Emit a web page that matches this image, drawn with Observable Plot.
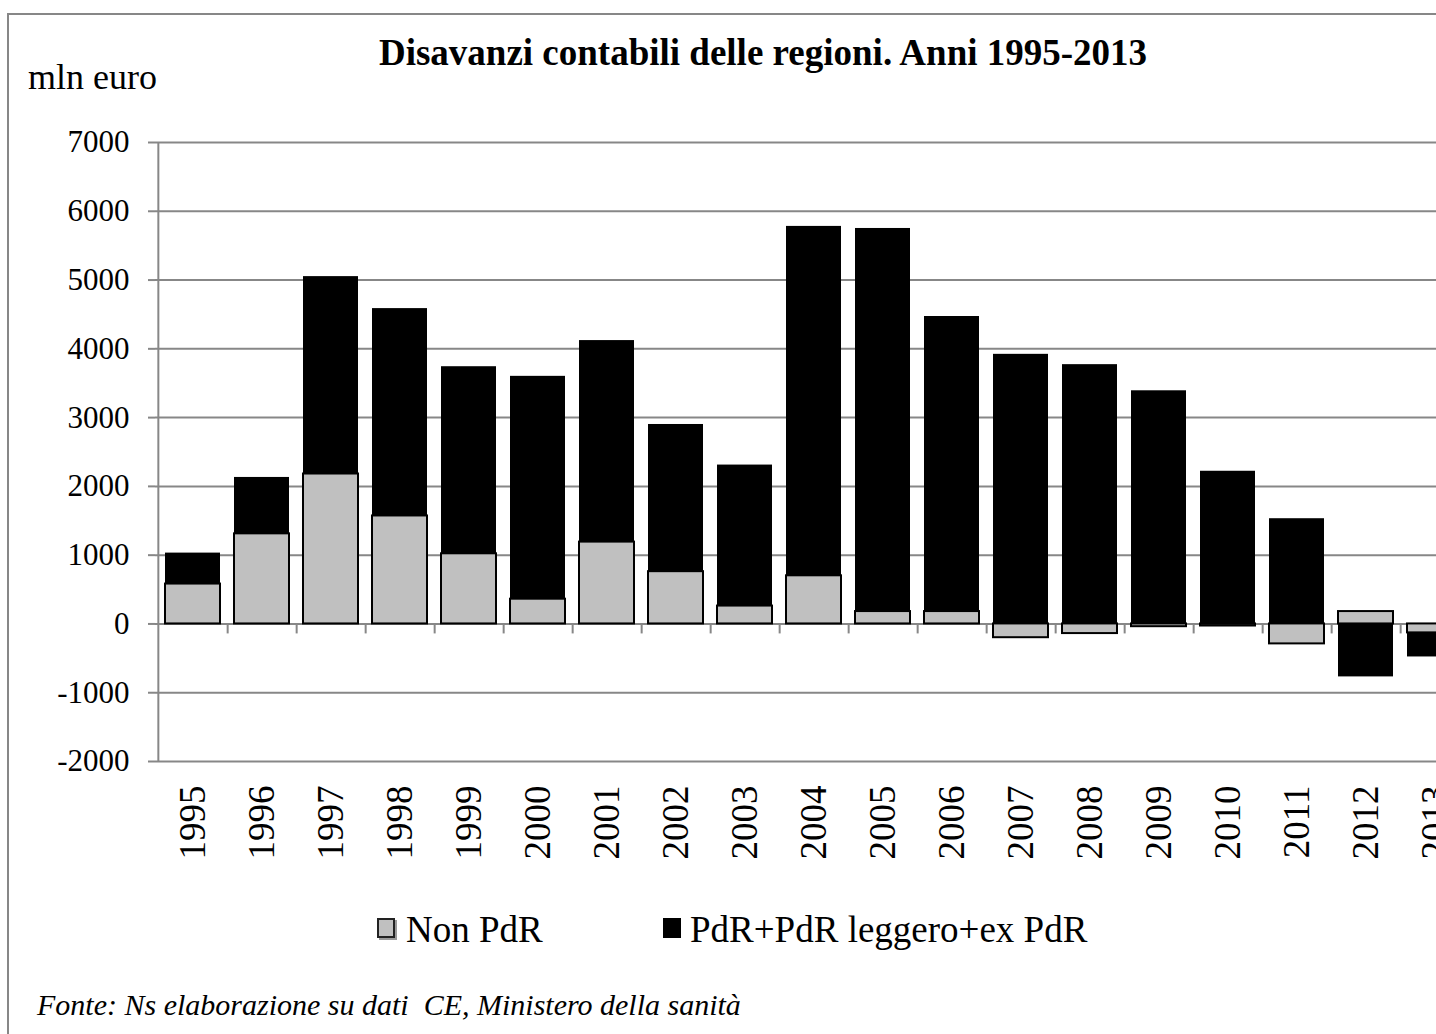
<!DOCTYPE html>
<html>
<head>
<meta charset="utf-8">
<script src="https://cdn.jsdelivr.net/npm/d3@7"></script>
<script src="https://cdn.jsdelivr.net/npm/@observablehq/plot@0.6"></script>
<style>
  html, body { margin: 0; padding: 0; background: #fff; overflow: hidden; width: 1436px; height: 1034px; }
  #wrap { position: relative; width: 1436px; height: 1034px; overflow: hidden; font-family: "Liberation Serif", "Times New Roman", serif; color: #000; }
  #frame { position: absolute; left: 7px; top: 13px; width: 2000px; height: 2000px; border-left: 2px solid #878787; border-top: 2px solid #878787; box-sizing: border-box; }
  #title { position: absolute; left: 0; width: 1526px; top: 34px; text-align: center; font-size: 37px; line-height: 37px; font-weight: bold; white-space: nowrap; }
  #unit { position: absolute; left: 28px; top: 59px; font-size: 36px; line-height: 36px; white-space: nowrap; }
  #chart { position: absolute; left: 0; top: 100px; }
  .leg { position: absolute; top: 911px; font-size: 37px; line-height: 37px; white-space: nowrap; }
  .sw { position: absolute; top: 918px; width: 18px; height: 20px; box-sizing: border-box; }
  #caption { position: absolute; left: 37px; top: 990px; font-size: 30px; line-height: 30px; font-style: italic; white-space: nowrap; }
</style>
</head>
<body>
<div id="wrap">
  <div id="frame"></div>
  <div id="title">Disavanzi contabili delle regioni. Anni 1995-2013</div>
  <div id="unit">mln euro</div>
  <div id="chart"></div>
  <div class="sw" style="left:377px;background:#c0c0c0;border:2px solid #222;box-shadow:2px 2px 0 #9a9a9a;"></div>
  <div class="leg" style="left:406px;">Non PdR</div>
  <div class="sw" style="left:663px;background:#000;"></div>
  <div class="leg" style="left:690px;">PdR+PdR leggero+ex PdR</div>
  <div id="caption">Fonte: Ns elaborazione su dati&nbsp; CE, Ministero della sanità</div>
</div>
<script>
// ---- data (mln euro) ----
const years = ["1995","1996","1997","1998","1999","2000","2001","2002","2003","2004","2005","2006","2007","2008","2009","2010","2011","2012","2013"];
const nonPdR = [580, 1310, 2180, 1570, 1020, 360, 1190, 760, 260, 700, 180, 180, -200, -140, -40, -30, -290, 180, -130];
const pdR    = [450, 820, 2870, 3015, 2720, 3240, 2930, 2140, 2050, 5080, 5570, 4290, 3920, 3770, 3390, 2220, 1530, -770, -350];
const seriesNames = ["Non PdR", "PdR+PdR leggero+ex PdR"];
const seriesColors = ["#c0c0c0", "#000000"];
const yTicks = [-2000, -1000, 0, 1000, 2000, 3000, 4000, 5000, 6000, 7000];

const data = [];
years.forEach((y, i) => {
  data.push({year: y, series: seriesNames[0], value: nonPdR[i]});
  data.push({year: y, series: seriesNames[1], value: pdR[i]});
});

const marginLeft = 155, marginRight = 0, marginTop = 42, marginBottom = 110;
const width = 1472, height = 771;
const step = (width - marginLeft - marginRight) / years.length;
const gray = "#878787";

const chart = Plot.plot({
  width, height, marginLeft, marginRight, marginTop, marginBottom,
  style: {maxWidth: "none", background: "transparent", fontFamily: "'Liberation Serif', 'Times New Roman', serif", color: "#000", overflow: "visible"},
  x: {type: "band", domain: years, paddingInner: 0.2, paddingOuter: 0.1, label: null},
  y: {domain: [-2000, 7000], label: null},
  color: {domain: seriesNames, range: seriesColors},
  marks: [
    Plot.gridY(yTicks, {stroke: gray, strokeOpacity: 1, strokeWidth: 2}),
    Plot.ruleX([years[0]], {x: d => d, dx: -step / 2, y1: -2000, y2: 7000, stroke: gray, strokeWidth: 2}),
    Plot.ruleX(years, {x: d => d, dx: step / 2, y1: 0, y2: -145, stroke: gray, strokeWidth: 2}),
    Plot.barY(data, Plot.stackY({
      x: "year", y: "value", fill: "series",
      stroke: d => d.series === seriesNames[0] ? "#000000" : "none",
      strokeWidth: 2
    })),
    Plot.axisY({ticks: yTicks, tickSize: 7, tickPadding: 19, fontSize: 31, stroke: gray, strokeWidth: 2, fill: "#000", tickFormat: d => String(d), label: null}),
    Plot.axisX({tickSize: 0, tickRotate: -90, tickPadding: 24, fontSize: 37, fill: "#000", label: null})
  ]
});
document.getElementById("chart").appendChild(chart);
</script>
</body>
</html>
